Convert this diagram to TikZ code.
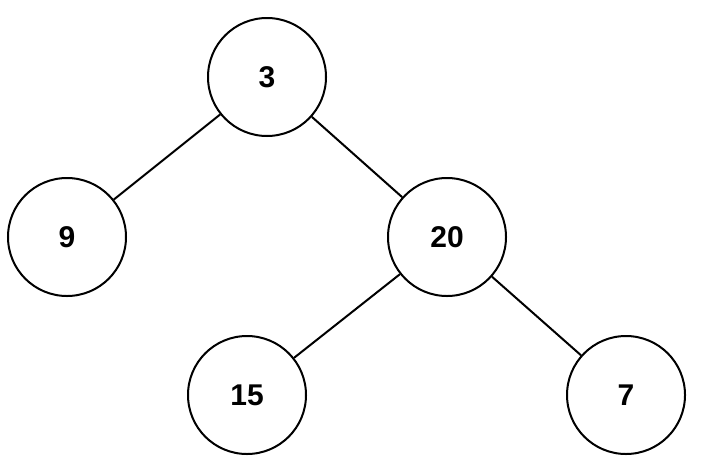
\documentclass[tikz,border=0pt]{standalone}
\usepackage{fontspec}
\setmainfont{Liberation Sans}
\begin{document}
\begin{tikzpicture}[x=1pt,y=-1pt,
  tn/.style={circle,draw,line width=2pt,minimum size=118pt,inner sep=0pt,font=\fontsize{30}{36}\selectfont\bfseries},
  ed/.style={line width=2pt}]
\useasboundingbox (0,0) rectangle (708,474);
\node[tn] (a) at (267,77) {3};
\node[tn] (b) at (67,237) {9};
\node[tn] (c) at (447,237) {20};
\node[tn] (d) at (247,395) {15};
\node[tn] (e) at (626,395) {7};
\draw[ed] (a) -- (b);
\draw[ed] (a) -- (c);
\draw[ed] (c) -- (d);
\draw[ed] (c) -- (e);
\end{tikzpicture}
\end{document}
